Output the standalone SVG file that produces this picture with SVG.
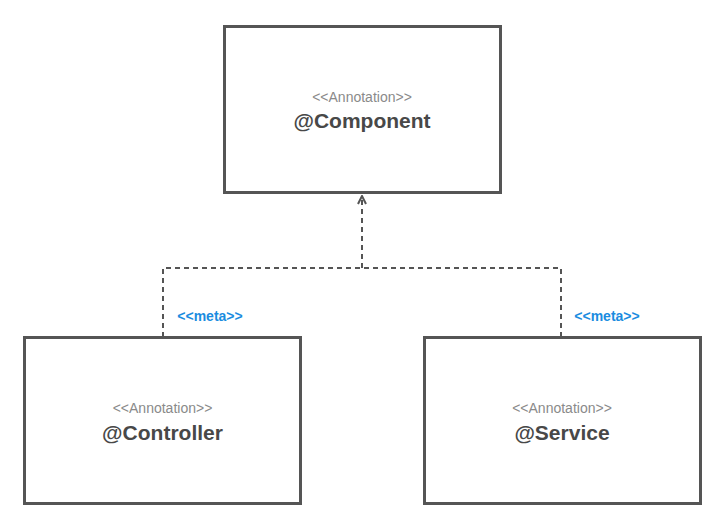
<svg xmlns="http://www.w3.org/2000/svg" width="725" height="524" viewBox="0 0 725 524">
<style>
.box{fill:#fff;stroke:#555;stroke-width:3}
.st{font-family:"Liberation Sans",Arial,sans-serif;font-size:14px;fill:#8a8a8a;text-anchor:middle}
.nm{font-family:"Liberation Sans",Arial,sans-serif;font-size:21px;font-weight:bold;fill:#484848;text-anchor:middle}
.meta{font-family:"Liberation Sans",Arial,sans-serif;font-size:14px;font-weight:bold;fill:#1a8ce0;text-anchor:middle}
.conn{fill:none;stroke:#555;stroke-width:2;stroke-dasharray:5 4}
</style>
<defs>
<marker id="arr" viewBox="0 0 10 10" refX="9" refY="5" markerWidth="10" markerHeight="10" markerUnits="userSpaceOnUse" orient="auto">
<path d="M1,1 L9,5 L1,9" fill="none" stroke="#555" stroke-width="2"/>
</marker>
</defs>
<rect width="725" height="524" fill="#fff"/>
<g id="connectors">
<path class="conn" d="M163,337 V268 H561 V337"/>
<path class="conn" d="M362,268 V196" marker-end="url(#arr)"/>
<text class="meta" x="210" y="321">&lt;&lt;meta&gt;&gt;</text>
<text class="meta" x="607" y="321">&lt;&lt;meta&gt;&gt;</text>
</g>
<g id="component">
<rect class="box" x="224.5" y="26.5" width="276" height="166"/>
<text class="st" x="362" y="102">&lt;&lt;Annotation&gt;&gt;</text>
<text class="nm" x="362" y="128">@Component</text>
</g>
<g id="controller">
<rect class="box" x="24.5" y="337.5" width="276" height="166"/>
<text class="st" x="162.5" y="413">&lt;&lt;Annotation&gt;&gt;</text>
<text class="nm" x="162.5" y="440">@Controller</text>
</g>
<g id="service">
<rect class="box" x="424.5" y="337.5" width="276" height="166"/>
<text class="st" x="562" y="413">&lt;&lt;Annotation&gt;&gt;</text>
<text class="nm" x="562" y="440">@Service</text>
</g>
</svg>
